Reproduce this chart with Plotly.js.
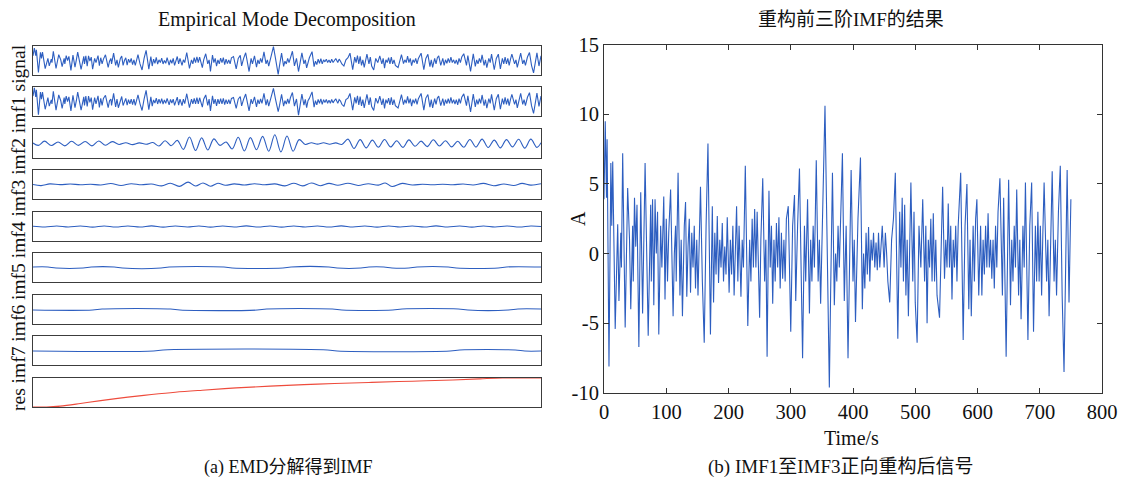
<!DOCTYPE html>
<html>
<head>
<meta charset="utf-8">
<script src="https://cdn.plot.ly/plotly-3.0.1.min.js"></script>
<style>html,body{margin:0;padding:0;background:#fff;}#chart{width:1123px;height:485px;}</style>
</head>
<body>
<div id="chart"></div>
<script>
// ---------- DATA ----------
const panelNames = ["signal","imf1","imf2","imf3","imf4","imf5","imf6","imf7","res"];

// reconstructed signal (IMF1..IMF3), extrema times (s) and amplitudes
const reconT = [
 0,2,4,5,8,11,12.5,14,18,20,
 22,24,27,28,30,34,36,38,41,43,
 46,47,49,51,53,56,59,62,64,66,
 71,73,75,76,78,80,82,84,86,88,
 91,93,96,98,100,102,104,107,111,113,
 115,116,119,122,124,126,129,131,133,135,
 137,139,141,143,145,147,149,151,155,158,
 161,164,167,171,174,176,178,180,182,184,
 186,188,190,192,194,196,198,201,203,205,
 207,209,213,215,217,220,222,224,227,231,
 234,236,238,240,242,244,246,250,252,255,
 258,260,262,265,267,269,271,273,275,277,
 279,281,283,285,287,289,291,293,296,300,
 303,306,308,311,314,319,322,324,327,330,
 332,334,336,338,341,344,346,348,351,355,
 358,362,364,367,370,372,374,376,378,380,
 383,386,389,392,397,400,402,404,406,408,
 412,415,417,419,421,423,425,427,429,431,
 433,435,437,439,441,443,445,447,450,452,
 454,456,459,462,465,468,472,475,477,479,
 481,483,485,487,489,493,496,498,500,503,
 506,509,512,515,517,519,521,523,525,527,
 529,531,533,535,539,544,547,549,551,553,
 555,557,559,561,563,565,567,569,573,577,
 580,583,586,588,590,593,595,597,599,602,
 605,607,609,611,613,615,617,619,621,623,
 625,627,629,631,633,636,640,642,646,650,
 653,655,657,659,661,663,666,668,670,673,
 675,677,681,684,687,690,693,695,697,699,
 701,703,705,707,711,713,715,718,720,723,
 725,727,730,733,736,739,744,747,750];
const reconA = [
 3.9,9.5,4,8.2,-8.1,6.5,2,6.6,-5.4,-1,
 2.1,-3.4,1.5,-1,7.2,-5.3,-1,4.7,1,-4,
 2,-2,4.0,0.5,3.5,-6.7,4.4,-4.3,1,6.5,
 -5.9,-1,3.5,-2,3.9,-3.7,3.9,0,3,-5.8,
 2,-1,4.1,-3.3,2.5,-2,1.5,4.6,-4.5,0,
 2,-2,5.8,-3,1,-4.5,2,3.7,-3.1,0.5,
 2.5,-2.8,1.5,-1,2,-2.5,1,-3,4.8,-2,
 -6.4,2,7.9,-5.8,3.4,-3.5,1.5,-1.5,2.7,-2.1,
 1,-1,2.2,-2,0.5,-1.5,2.6,-2.8,1,-1.5,
 2,-3,3.4,-2,2,-3.1,1,-1,6.3,-5.2,
 1,-2,2.5,-1,3.2,-1,3,-4.6,1,5.4,
 -2,1,-7.4,4.5,-1,2,-3.6,1,-2,2.2,
 -1,2.6,-2.5,1.5,-1.8,1,-2,2.5,3.4,-5.6,
 2,4.2,-3.4,2,6.1,-7.5,2,-2,3.9,-4.3,
 1,-2,2,-1,6.7,-2,1,-3.6,2,10.6,
 2,-9.6,-3,5.8,-3.7,0,-2,2,-1,3,
 7.2,-3.4,2,-7.5,6.0,-2,1,-4.9,0,2.5,
 6.9,-4,0,-2.5,1.5,-1.5,1.9,-2,1,-0.5,
 1.5,-1,0.8,-1.2,1.5,-1,0.5,2.0,-1,1.5,
 0,-2,-3.5,1,2.5,5.8,-6.1,3,-1,4,
 -2,3.5,-3,1,-4.5,5.1,-2,3,-3.5,-6.4,
 2,-1,3.9,-2,2,-5.0,1,-1,2.5,-2,
 2.9,-2,1,-3,-4.6,4.8,-1.8,1,-1,3.6,
 -1,2,-3.3,1,-1,2,-2,2,5.8,-6.2,
 2,5.0,-4,1,-4.5,2,-2,2.5,3.9,-3,
 2,-3,1,-1.5,2,-1,2.9,-1,1,-1.8,
 1,-2.5,2,-1,3,5.4,-3,4,-7.4,5.3,
 -3.7,1,-2,2,-1,4.6,-3,1,-4.7,2,
 -1,5.1,-6.2,2,5.1,-5.6,2,-2,3,-2,
 2,-3,1.5,5.1,-2,1,-4.5,2,5.9,-2,
 1,-3,3,6.3,-3,-8.5,6.0,-3.5,3.9];

// original signal (left panel, same picture as the reconstruction)
const signalT = reconT;
const signalA = reconA;

// IMF1 (sampled at the same extrema times)
const imf1A = [
 3.5,8.8,3,7.5,-8.5,6,1.5,6,-5,-0.5,
 2.5,-3,1,-1.5,6.5,-5.5,-0.5,4.2,0.5,-4.5,
 2.5,-1.5,3.5,0,3,-6,4,-4,0.5,6,
 -5.5,-0.5,3,-2.5,3.5,-3.2,3.5,-0.5,2.5,-5.2,
 2.5,-1.5,3.6,-3.8,2,-2.5,2,4,-4,0.5,
 1.5,-2.5,5.2,-3.5,1.5,-4,1.5,3.2,-2.6,0,
 2,-2.4,1.2,-1.5,1.5,-2,1.5,-2.5,4.2,-1.5,
 -5.8,1.5,7.2,-5.2,3,-3,1,-1,2.2,-1.6,
 1.5,-1.2,1.8,-1.6,1,-1.2,2,-2.2,1.3,-1,
 1.5,-2.5,2.8,-2.4,1.5,-2.6,1.5,-1.4,5,-4,
 1.5,-1.5,2,-1.5,2.5,-1.5,2.4,-3.6,1.5,4.2,
 -2.5,1.5,-6,3.6,-1.5,1.5,-2.8,1.5,-1.5,1.8,
 -1.5,2,-2,1.2,-1.5,1.2,-1.6,2,2.6,-4.4,
 1.5,3.2,-2.8,1.5,4.8,-6,1.5,-1.5,3,-3.4,
 1.2,-1.5,1.6,-1.2,5.2,-2.4,1.4,-3,1.6,8.5,
 1.5,-6.5,-2.5,4.6,-3,0.5,-1.6,1.6,-1.4,2.4,
 5.8,-3,1.6,-8.8,4.8,-2.4,1.4,-4,0.5,2,
 6.2,-3.6,0.5,-2.2,1.4,-1.2,1.7,-1.8,1.2,-0.6,
 1.3,-1.1,0.9,-1.1,1.3,-0.9,0.6,1.8,-1.2,1.3,
 0.3,-1.8,-3.2,1.2,2.2,5.2,-5.6,2.7,-1.2,3.6,
 -2.2,3.2,-2.8,1.2,-4.1,4.6,-2.2,2.6,-3.2,-5.8,
 2.2,-1.2,3.5,-2.2,1.8,-4.5,1.2,-1.2,2.2,-2.2,
 2.6,-2.2,1.2,-2.7,-4.2,4.4,-2,1.2,-1.2,3.3,
 -1.2,1.8,-3,1.2,-1.2,1.8,-1.8,1.8,5.2,-5.6,
 2.2,4.5,-3.6,1.2,-4.1,1.8,-1.8,2.2,3.5,-2.7,
 1.8,-2.7,1.2,-1.4,1.8,-1.2,2.6,-1.2,1.2,-1.6,
 1.2,-2.2,1.8,-1.2,2.7,4.9,-2.7,3.6,-6.7,4.8,
 -3.4,1.2,-1.8,1.8,-1.2,4.2,-2.7,1.2,-4.3,1.8,
 -1.2,4.6,-5.6,1.8,4.6,-5,1.8,-1.8,2.7,-1.8,
 1.8,-2.7,1.4,4.6,-1.8,1.2,-4.1,1.8,5.3,-1.8,
 1.2,-2.7,2.7,5.7,-2.7,-7.7,5.4,-3.2,3.5];

const imf2T = [0,8,17,27,37,47,57,67,77,87,97,107,117,127,137,147,157,167,177,186,195,204,213,222,231,240,249,258,267,276,285,294,303,312,321,330,339,348,357,366,375,384,393,402,411,420,429,438,447,456,465,474,483,492,501,510,519,528,537,546,555,564,573,582,591,600,609,618,627,636,645,654,663,672,681,690,699,708,717,726,735,744,750];
const imf2A = [0.3,-1.2,1.5,-1.3,1.0,-1.5,1.4,-1.2,1.3,-1.5,1.6,-1.1,1.2,-0.6,0.5,-0.7,0.4,-0.5,0.6,-1.6,1.8,-1.4,2.0,-3.8,4.2,-4.5,3.6,-4.2,3.0,-1.2,1.0,-3.5,4.0,-4.8,3.8,-4.0,4.6,-5.0,5.6,-5.4,4.8,-5.0,2.5,-0.6,0.5,-0.4,0.5,-0.5,0.4,-0.6,2.8,-3.2,2.5,-2.8,2.2,-2.4,2.6,-2.2,1.8,-2.5,2.3,-1.8,1.5,-2.0,2.4,-1.6,1.8,-2.2,1.4,-2.4,2.6,-2.3,2.8,-2.6,2.2,-2.8,2.5,-2.2,2.7,-3.0,2.8,-2.5,0.5];

const imf3T = [0,12,25,40,55,70,85,100,115,130,145,160,175,190,203,216,229,240,251,262,273,284,297,312,327,342,357,372,385,398,411,424,437,450,465,480,495,510,520,530,545,560,575,590,605,620,635,650,665,680,695,710,722,735,750];
const imf3A = [0,-0.7,0.4,-0.1,0.3,-0.2,0.2,-0.3,0.6,-0.6,0.5,-0.2,0.3,-0.9,0.8,-1.2,1.5,-1.0,1.0,-1.1,0.8,-0.5,0.4,-0.3,0.5,-0.2,0.4,-0.9,0.8,-0.9,1.0,-0.8,0.7,-0.5,0.8,-0.6,0.5,-0.4,1.0,-1.3,0.7,-0.3,0.2,-0.2,0.2,-0.2,0.3,-0.3,0.7,-0.8,0.3,-0.6,0.7,-0.4,0.5];

const imf4T = [0,18,35,52,70,88,105,122,140,158,175,192,210,228,245,262,280,297,315,332,350,367,385,402,420,437,455,472,490,508,525,542,560,578,595,612,630,648,665,682,700,718,735,750];
const imf4A = [0.15,-0.3,0.35,-0.3,0.3,-0.4,0.3,-0.35,0.35,-0.3,0.4,-0.4,0.3,-0.3,0.35,-0.4,0.3,-0.3,0.4,-0.35,0.3,-0.4,0.35,-0.3,0.3,-0.35,0.4,-0.3,0.3,-0.4,0.35,-0.3,0.3,-0.35,0.4,-0.3,0.3,-0.4,0.35,-0.3,0.3,-0.35,0.3,0];

const imf5T = [0,22,34,74,86,120,132,189,201,282,294,369,381,437,449,484,496,518,530,555,567,613,625,687,699,750];
const imf5A = [0.35,0.35,-0.35,-0.35,0.35,0.35,-0.35,-0.35,0.35,0.35,-0.35,-0.35,0.35,0.35,-0.35,-0.35,0.35,0.35,-0.35,-0.35,0.35,0.35,-0.35,-0.35,0.35,0.35];

const imf6T = [0,88,102,203,217,331,345,442,456,531,545,628,642,702,716,750];
const imf6A = [-0.35,-0.35,0.35,0.35,-0.35,-0.35,0.35,0.35,-0.35,-0.35,0.35,0.35,-0.35,-0.35,0.35,0.35];

const imf7T = [0,178,192,435,449,616,630,712,726,750];
const imf7A = [-0.35,-0.35,0.35,0.35,-0.35,-0.35,0.35,0.35,-0.35,-0.35];

const resT = [0,20,40,70,100,140,175,210,250,300,350,400,445,500,560,620,660,693,720,750];
const resA = [0,0,0.03,0.12,0.22,0.34,0.43,0.51,0.58,0.66,0.72,0.77,0.81,0.85,0.89,0.93,0.97,1.0,1.0,1.0];

const xTicks = [0,100,200,300,400,500,600,700,800];
const yTicks = [-10,-5,0,5,10,15];

const leftTitle = "Empirical Mode Decomposition";
const rightTitle = "重构前三阶IMF的结果";
const captionA = "(a) EMD分解得到IMF";
const captionB = "(b) IMF1至IMF3正向重构后信号";
const xTitle = "Time/s";
const yTitle = "A";

// ---------- LAYOUT ----------
const W = 1123, H = 485;
const fx = p => p / W;
const fy = p => 1 - p / H;
const SERIF = "Liberation Serif, 'Noto Sans CJK SC', serif";
const BLUE = "#2d5ec0";
const RED = "#ee4b3c";

const series = [
  [signalT, signalA], [reconT, imf1A], [imf2T, imf2A], [imf3T, imf3A],
  [imf4T, imf4A], [imf5T, imf5A], [imf6T, imf6A], [imf7T, imf7A], [resT, resA]
];
const smoothPanels = [false, false, true, true, true, true, true, true, true];

const imfMin = Math.min(...imf1A), imfMax = Math.max(...imf1A);
const sigMin = Math.min(...signalA), sigMax = Math.max(...signalA);
const resMin = Math.min(...resA), resMax = Math.max(...resA);

const traces = [];
const layout = {
  width: W, height: H,
  margin: {l: 0, r: 0, t: 0, b: 0},
  paper_bgcolor: "#fff", plot_bgcolor: "#fff",
  showlegend: false,
  font: {family: SERIF, color: "#111", size: 18},
  annotations: []
};

const boxL = 33, boxR = 541;
const boxTops = [46, 87, 129, 170, 212, 253, 295, 336, 378];
const boxH = 29;
series.forEach((s, i) => {
  const n = i + 1;
  const xa = n === 1 ? "x" : "x" + n;
  const ya = n === 1 ? "y" : "y" + n;
  const isRes = i === 8;
  traces.push({
    x: s[0], y: s[1], xaxis: xa, yaxis: ya, type: "scatter", mode: "lines",
    line: {color: isRes ? RED : BLUE, width: 1.1, shape: smoothPanels[i] ? "spline" : "linear", smoothing: 1},
    hoverinfo: "skip"
  });
  const top = boxTops[i];
  let yr;
  if (i === 0) { const p = (sigMax - sigMin) * 0.02; yr = [sigMin - p, sigMax + p]; }
  else if (isRes) { yr = [resMin, resMax]; }
  else { const p = (imfMax - imfMin) * 0.03; yr = [imfMin - p, imfMax + p]; }
  layout[n === 1 ? "xaxis" : "xaxis" + n] = {
    domain: [fx(boxL), fx(boxR)], range: [0, 750], anchor: ya,
    showline: true, mirror: true, linecolor: "#3c3c3c", linewidth: 1.3,
    showticklabels: false, ticks: "", showgrid: false, zeroline: false, fixedrange: true
  };
  layout[n === 1 ? "yaxis" : "yaxis" + n] = {
    domain: [fy(top + boxH), fy(top)], range: yr, anchor: xa,
    showline: true, mirror: true, linecolor: "#3c3c3c", linewidth: 1.3,
    showticklabels: false, ticks: "", showgrid: false, zeroline: false, fixedrange: true
  };
});

// panel names as one rotated label column (bottom panel first, as in the reference)
layout.annotations.push({
  text: panelNames.slice().reverse().join(" "), xref: "paper", yref: "paper",
  x: fx(18), y: fy(228), textangle: -90, showarrow: false,
  xanchor: "center", yanchor: "middle", font: {family: SERIF, size: 19.5, color: "#111"}
});

// right subplot
traces.push({
  x: reconT, y: reconA, xaxis: "x10", yaxis: "y10", type: "scatter", mode: "lines",
  line: {color: BLUE, width: 1.1}, hoverinfo: "skip"
});
layout.xaxis10 = {
  domain: [fx(604), fx(1102)], range: [0, 800], anchor: "y10",
  tickvals: xTicks, ticktext: xTicks.map(String), ticks: "inside", ticklen: 5,
  tickcolor: "#333", showline: true, mirror: "ticks", linecolor: "#333", linewidth: 1,
  ticklabeloverflow: "allow",
  showgrid: false, zeroline: false, tickfont: {family: SERIF, size: 20.5, color: "#111"}, fixedrange: true
};
layout.yaxis10 = {
  domain: [fy(393), fy(44.5)], range: [-10, 15], anchor: "x10",
  tickvals: yTicks, ticktext: yTicks.map(String), ticks: "inside", ticklen: 5,
  tickcolor: "#333", showline: true, mirror: "ticks", linecolor: "#333", linewidth: 1,
  ticklabeloverflow: "allow",
  showgrid: false, zeroline: false, tickfont: {family: SERIF, size: 20.5, color: "#111"}, fixedrange: true
};

const ann = (text, px, py, size, angle) => layout.annotations.push({
  text: text, xref: "paper", yref: "paper", x: fx(px), y: fy(py),
  xanchor: "center", yanchor: "middle", showarrow: false, textangle: angle || 0,
  font: {family: SERIF, size: size, color: "#111"}
});
ann(leftTitle, 287, 20, 20);
ann(rightTitle, 851, 20, 19);
ann(captionA, 288, 467, 18);
ann(captionB, 840, 467, 19);
ann(xTitle, 851, 438, 20);
ann(yTitle, 578, 219, 20, -90);

Plotly.newPlot("chart", traces, layout, {staticPlot: true, displayModeBar: false});
</script>
</body>
</html>
